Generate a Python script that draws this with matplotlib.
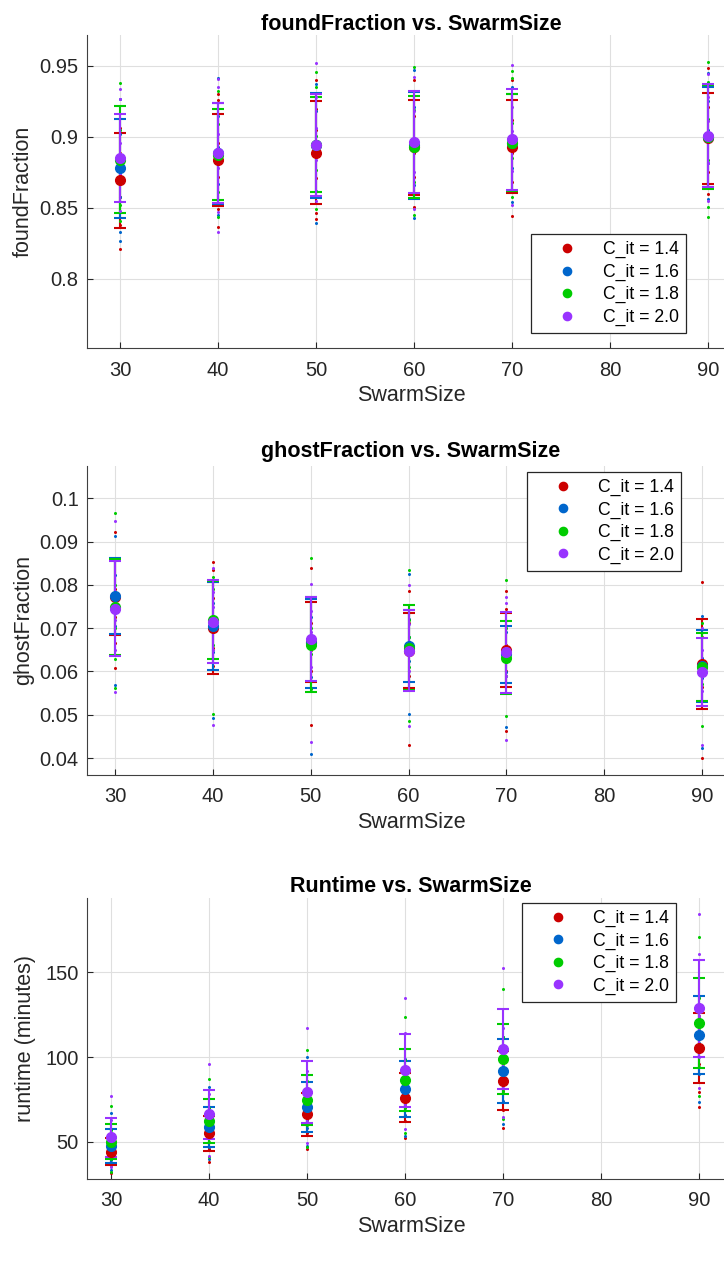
import matplotlib
matplotlib.use("Agg")
import matplotlib.pyplot as plt

plt.rcParams['font.family'] = ['Liberation Sans', 'DejaVu Sans']

# swarm sizes and C_it settings
swarm = [30, 40, 50, 60, 70, 90]
c_labels = ["C_it = 1.4", "C_it = 1.6", "C_it = 1.8", "C_it = 2.0"]
colors = ["#cc0000", "#0066cc", "#00cc00", "#9933ff"]

# foundFraction: mean / std per C_it (rows) and swarm size (cols)
found_mean = [[0.8695, 0.8838, 0.8890, 0.8927, 0.8932, 0.8990],
              [0.8780, 0.8885, 0.8942, 0.8940, 0.8960, 0.9000],
              [0.8840, 0.8876, 0.8944, 0.8927, 0.8960, 0.9000],
              [0.8850, 0.8885, 0.8944, 0.8967, 0.8983, 0.9010]]
found_std = [[0.0335, 0.0326, 0.0364, 0.0333, 0.0325, 0.0322],
             [0.0350, 0.0357, 0.0370, 0.0380, 0.0340, 0.0355],
             [0.0378, 0.0320, 0.0334, 0.0360, 0.0340, 0.0364],
             [0.0310, 0.0352, 0.0360, 0.0360, 0.0353, 0.0360]]
found_pts = [
    [[0.8214, 0.838, 0.858, 0.872, 0.889, 0.906],
     [0.8364, 0.849, 0.872, 0.896, 0.926, 0.930],
     [0.842, 0.8467, 0.871, 0.905, 0.920, 0.940],
     [0.851, 0.872, 0.889, 0.915, 0.940],
     [0.8446, 0.868, 0.889, 0.912, 0.940],
     [0.860, 0.875, 0.898, 0.921, 0.9484]],
    [[0.8268, 0.833, 0.858, 0.885, 0.902, 0.927],
     [0.845, 0.867, 0.893, 0.915, 0.9418],
     [0.8397, 0.862, 0.895, 0.918, 0.937],
     [0.8432, 0.866, 0.890, 0.921, 0.947],
     [0.854, 0.878, 0.901, 0.9355],
     [0.856, 0.882, 0.905, 0.925, 0.945]],
    [[0.841, 0.852, 0.881, 0.905, 0.9378],
     [0.8434, 0.861, 0.889, 0.909, 0.9324],
     [0.849, 0.877, 0.901, 0.9355, 0.9456],
     [0.8453, 0.868, 0.897, 0.919, 0.9495],
     [0.858, 0.885, 0.910, 0.9413, 0.9467],
     [0.8439, 0.851, 0.884, 0.913, 0.939, 0.953]],
    [[0.848, 0.874, 0.896, 0.927, 0.934],
     [0.8333, 0.8474, 0.878, 0.902, 0.9355, 0.9406],
     [0.855, 0.884, 0.906, 0.928, 0.9519],
     [0.8493, 0.875, 0.899, 0.918, 0.9425],
     [0.852, 0.876, 0.904, 0.921, 0.9507],
     [0.855, 0.882, 0.911, 0.928, 0.944]]]

# ghostFraction
ghost_mean = [[0.0772, 0.0700, 0.0668, 0.0648, 0.0650, 0.0618],
              [0.0774, 0.0705, 0.0665, 0.0658, 0.0640, 0.0613],
              [0.0748, 0.0718, 0.0662, 0.0655, 0.0632, 0.0610],
              [0.0745, 0.0715, 0.0675, 0.0648, 0.0644, 0.0599]]
ghost_std = [[0.0088, 0.0106, 0.0092, 0.0087, 0.0085, 0.0104],
             [0.0088, 0.0102, 0.0103, 0.0083, 0.0066, 0.0083],
             [0.0111, 0.0090, 0.0110, 0.0098, 0.0085, 0.0078],
             [0.0110, 0.0096, 0.0097, 0.0094, 0.0094, 0.0079]]
ghost_pts = [
    [[0.0609, 0.0665, 0.0725, 0.0790, 0.0921],
     [0.0612, 0.0655, 0.0712, 0.0770, 0.0835, 0.0852],
     [0.0477, 0.0601, 0.0650, 0.0712, 0.0838],
     [0.0431, 0.0590, 0.0652, 0.0712, 0.0786],
     [0.0463, 0.0602, 0.0660, 0.0745, 0.0786],
     [0.0400, 0.0565, 0.0620, 0.0680, 0.0806]],
    [[0.0568, 0.0705, 0.0760, 0.0822, 0.0912],
     [0.0492, 0.0645, 0.0698, 0.0758],
     [0.0409, 0.0588, 0.0668, 0.0725],
     [0.0502, 0.0625, 0.0680, 0.0722, 0.0825],
     [0.0471, 0.0598, 0.0648, 0.0690],
     [0.0423, 0.0585, 0.0630, 0.0727]],
    [[0.0561, 0.0628, 0.0700, 0.0800, 0.0965],
     [0.0502, 0.0660, 0.0725, 0.0790, 0.0818],
     [0.0560, 0.0640, 0.0700, 0.0863],
     [0.0485, 0.0610, 0.0680, 0.0720, 0.0834],
     [0.0496, 0.0590, 0.0640, 0.0700, 0.0812],
     [0.0473, 0.0570, 0.0625, 0.0712]],
    [[0.0553, 0.0650, 0.0720, 0.0780, 0.0948],
     [0.0477, 0.0650, 0.0700, 0.0750, 0.0784, 0.0840],
     [0.0438, 0.0610, 0.0690, 0.0740, 0.0803],
     [0.0475, 0.0600, 0.0660, 0.0710, 0.0799],
     [0.0442, 0.0590, 0.0650, 0.0757, 0.0773],
     [0.0431, 0.0555, 0.0600, 0.0650, 0.0700]]]

# runtime (minutes)
run_mean = [[44.1, 54.9, 66.1, 76.0, 86.0, 105.1],
            [47.5, 58.9, 70.7, 81.3, 91.9, 112.8],
            [49.9, 62.4, 74.6, 86.4, 98.8, 120.3],
            [52.6, 66.1, 79.3, 92.3, 104.7, 128.7]]
run_std = [[7.9, 10.2, 12.6, 14.6, 17.3, 20.7],
           [9.8, 11.9, 14.8, 16.5, 18.9, 23.0],
           [10.3, 13.0, 15.0, 18.3, 20.8, 26.6],
           [11.5, 14.7, 18.5, 21.6, 23.8, 28.5]]
run_pts = [
    [[31.3, 36.5, 42, 48, 55], [38.0, 45.5, 52, 60, 66], [45.5, 55, 63, 70, 79],
     [52.0, 62, 72, 82, 92], [57.9, 69, 80, 92, 103], [70.7, 79.3, 96, 112, 124]],
    [[33.3, 39, 46, 54, 67.1], [39.6, 47, 57, 66, 82.5], [47.5, 58, 70, 80, 99.8],
     [53.3, 66, 80, 92, 99], [60.4, 74, 88, 102, 112], [73.4, 90, 108, 122, 136]],
    [[32.3, 40, 48, 57, 71.3], [41, 50, 60, 70, 87.2], [47.0, 60, 72, 86, 104.3],
     [54.9, 70, 84, 98, 123.6], [63.2, 80, 96, 112, 140], [77, 94, 116, 135, 171.1]],
    [[34.8, 42, 50, 62.8, 76.8], [41.7, 52, 64, 78, 96.1], [49, 62, 76, 92, 117.3],
     [57.3, 72, 88, 114.4, 135], [64.8, 82, 100, 116.9, 152.4], [82, 100, 124, 160.6, 184.4]]]

W, H = 724, 1268
fig = plt.figure(figsize=(W / 100, H / 100), dpi=100)


def make_panel(rect, means, stds, pts, title, ylabel, xlim, ylim, yticks, yticklabels,
               leg_loc, leg_anchor, title_pad, ylabelpad):
    left, top, right, bottom = rect
    ax = fig.add_axes([left / W, 1 - bottom / H, (right - left) / W, (bottom - top) / H])
    handles = []
    for k in range(4):
        for j, s in enumerate(swarm):
            ax.plot([s] * len(pts[k][j]), pts[k][j], 'o', color=colors[k], ms=2.2, mew=0)
        eb = ax.errorbar(swarm, means[k], yerr=stds[k], fmt='o', color=colors[k],
                         ms=7, elinewidth=1.5, capsize=4.3, capthick=1.5)
        handles.append(eb[0])
    ax.set_xlim(*xlim)
    ax.set_ylim(*ylim)
    ax.set_xticks(swarm + [80])
    ax.set_xticklabels([str(v) for v in swarm + [80]])
    ax.set_yticks(yticks)
    ax.set_yticklabels(yticklabels)
    ax.set_axisbelow(True)
    ax.grid(True, color='#dfdfdf', lw=0.8)
    for sp in ['top', 'right']:
        ax.spines[sp].set_visible(False)
    for sp in ['left', 'bottom']:
        ax.spines[sp].set_color('#404040')
        ax.spines[sp].set_linewidth(0.8)
    ax.tick_params(direction='in', length=4.5, width=0.8, color='#262626',
                   labelcolor='#262626', labelsize=14.5)
    ax.tick_params(axis='x', pad=9)
    ax.tick_params(axis='y', pad=6)
    ax.set_title(title, fontsize=15.5, fontweight='bold', pad=title_pad)
    ax.set_xlabel("SwarmSize", fontsize=15.5, color='#262626', labelpad=4)
    ax.set_ylabel(ylabel, fontsize=15.5, color='#262626', labelpad=ylabelpad)
    leg = ax.legend(handles, c_labels, loc=leg_loc, bbox_to_anchor=leg_anchor,
                    borderaxespad=0, fontsize=12.7, fancybox=False, framealpha=1,
                    edgecolor='#262626', borderpad=0.4, handlelength=3.3,
                    handletextpad=0.35, labelspacing=0.3, markerscale=0.85)
    leg.get_frame().set_linewidth(0.9)
    return ax


make_panel((87, 35, 735, 348), found_mean, found_std, found_pts,
           "foundFraction vs. SwarmSize", "foundFraction",
           (26.63, 92.76), (0.7514, 0.9718), [0.8, 0.85, 0.9, 0.95],
           ["0.8", "0.85", "0.9", "0.95"], 'lower right', (0.924, 0.048), 2.5, 4)

make_panel((87, 466, 735, 775), ghost_mean, ghost_std, ghost_pts,
           "ghostFraction vs. SwarmSize", "ghostFraction",
           (27.14, 93.37), (0.03608, 0.10746),
           [0.04, 0.05, 0.06, 0.07, 0.08, 0.09, 0.1],
           ["0.04", "0.05", "0.06", "0.07", "0.08", "0.09", "0.1"],
           'upper right', (0.917, 0.981), 6.8, 4)

make_panel((87, 898, 735, 1179), run_mean, run_std, run_pts,
           "Runtime vs. SwarmSize", "runtime (minutes)",
           (27.55, 93.67), (28.0, 193.9), [50, 100, 150], ["50", "100", "150"],
           'upper right', (0.909, 0.982), 4.6, 7)

fig.savefig("out.png", dpi=100)
